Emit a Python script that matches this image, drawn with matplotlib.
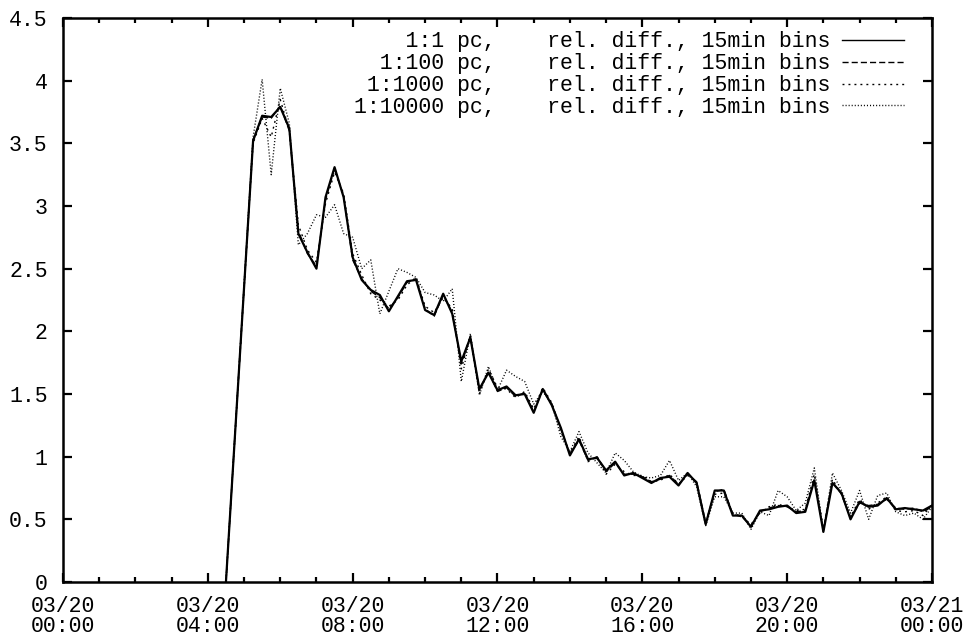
import matplotlib
matplotlib.use("Agg")
import matplotlib.pyplot as plt
from matplotlib.ticker import FixedLocator, MultipleLocator

plt.rcParams['font.family'] = ['Liberation Mono', 'DejaVu Sans Mono']

# 15-minute bins (hours since 03/20 00:00); the bins between 04:30 and 05:15 are empty
bin_hours = [4.5] + [5.25 + 0.25 * i for i in range(76)]

rel_diff_1 = [0.00,
    3.52, 3.72, 3.71,
    3.79, 3.62, 2.78, 2.63,
    2.50, 3.07, 3.31, 3.07,
    2.59, 2.41, 2.33, 2.29,
    2.16, 2.28, 2.40, 2.41,
    2.17, 2.13, 2.30, 2.14,
    1.76, 1.95, 1.54, 1.67,
    1.53, 1.56, 1.49, 1.50,
    1.35, 1.54, 1.41, 1.23,
    1.01, 1.14, 0.98, 0.99,
    0.89, 0.96, 0.85, 0.87,
    0.83, 0.79, 0.83, 0.84,
    0.77, 0.87, 0.79, 0.46,
    0.73, 0.73, 0.53, 0.53,
    0.44, 0.57, 0.58, 0.60,
    0.61, 0.55, 0.56, 0.81,
    0.40, 0.79, 0.71, 0.50,
    0.64, 0.60, 0.61, 0.67,
    0.58, 0.59, 0.58, 0.57,
    0.61]

rel_diff_100 = [0.00,
    3.53, 3.71, 3.70,
    3.80, 3.60, 2.80, 2.62,
    2.52, 3.05, 3.30, 3.08,
    2.57, 2.42, 2.32, 2.27,
    2.18, 2.27, 2.39, 2.42,
    2.18, 2.12, 2.29, 2.15,
    1.74, 1.96, 1.53, 1.68,
    1.52, 1.55, 1.48, 1.51,
    1.36, 1.53, 1.42, 1.22,
    1.02, 1.13, 0.97, 1.00,
    0.88, 0.95, 0.86, 0.86,
    0.84, 0.80, 0.82, 0.85,
    0.78, 0.86, 0.80, 0.47,
    0.72, 0.74, 0.54, 0.52,
    0.45, 0.56, 0.59, 0.61,
    0.60, 0.56, 0.57, 0.82,
    0.41, 0.80, 0.70, 0.51,
    0.63, 0.61, 0.62, 0.66,
    0.59, 0.58, 0.59, 0.56,
    0.60]

rel_diff_1000 = [0.00,
    3.50, 3.70, 3.55,
    3.85, 3.60, 2.85, 2.65,
    2.55, 3.02, 3.27, 3.10,
    2.62, 2.45, 2.30, 2.25,
    2.20, 2.25, 2.37, 2.43,
    2.20, 2.15, 2.27, 2.18,
    1.70, 1.97, 1.50, 1.70,
    1.55, 1.54, 1.47, 1.52,
    1.38, 1.55, 1.43, 1.20,
    1.03, 1.16, 0.96, 1.00,
    0.86, 0.94, 0.88, 0.85,
    0.85, 0.80, 0.81, 0.86,
    0.78, 0.85, 0.80, 0.47,
    0.70, 0.71, 0.55, 0.52,
    0.46, 0.55, 0.60, 0.62,
    0.60, 0.57, 0.58, 0.86,
    0.42, 0.82, 0.70, 0.52,
    0.66, 0.58, 0.63, 0.68,
    0.57, 0.56, 0.57, 0.53,
    0.62]

rel_diff_10000 = [0.00,
    3.55, 4.01, 3.25,
    3.94, 3.66, 2.69, 2.78,
    2.93, 2.91, 3.01, 2.78,
    2.75, 2.50, 2.57, 2.14,
    2.32, 2.50, 2.47, 2.43,
    2.31, 2.29, 2.24, 2.34,
    1.60, 1.98, 1.49, 1.72,
    1.53, 1.69, 1.64, 1.60,
    1.42, 1.52, 1.42, 1.16,
    1.04, 1.20, 1.03, 0.95,
    0.87, 1.03, 0.97, 0.88,
    0.84, 0.83, 0.85, 0.97,
    0.81, 0.87, 0.76, 0.45,
    0.68, 0.68, 0.55, 0.55,
    0.42, 0.56, 0.53, 0.73,
    0.68, 0.57, 0.63, 0.91,
    0.40, 0.87, 0.73, 0.55,
    0.73, 0.50, 0.69, 0.71,
    0.56, 0.53, 0.55, 0.50,
    0.60]

series_labels = ["1:1 pc,", "1:100 pc,", "1:1000 pc,", "1:10000 pc,"]
legend_suffix = "    rel. diff., 15min bins"

x_tick_hours = [0, 4, 8, 12, 16, 20, 24]
x_tick_labels = ["03/20\n00:00", "03/20\n04:00", "03/20\n08:00", "03/20\n12:00",
                 "03/20\n16:00", "03/20\n20:00", "03/21\n00:00"]
y_ticks = [0, 0.5, 1, 1.5, 2, 2.5, 3, 3.5, 4, 4.5]
y_tick_labels = ["0", "0.5", "1", "1.5", "2", "2.5", "3", "3.5", "4", "4.5"]

fig = plt.figure(figsize=(9.69, 6.39), dpi=100)
ax = fig.add_axes([63 / 969, 57 / 639, 869 / 969, 564 / 639])

styles = [
    dict(linestyle='-', linewidth=1.6),
    dict(linestyle=(0, (4.4, 2.2)), linewidth=1.0),
    dict(linestyle=(0, (1.4, 2.9)), linewidth=1.0),
    dict(linestyle=(0, (0.75, 1.45)), linewidth=1.0),
]
all_series = [rel_diff_1, rel_diff_100, rel_diff_1000, rel_diff_10000]
width = max(len(s) for s in series_labels)
for name, values, st in zip(series_labels, all_series, styles):
    ax.plot(bin_hours, values, color='black',
            label=f"{name:>{width}}{legend_suffix}", **st)

ax.set_xlim(0, 24)
ax.set_ylim(0, 4.5)
ax.xaxis.set_major_locator(FixedLocator(x_tick_hours))
ax.set_xticklabels(x_tick_labels)
ax.xaxis.set_minor_locator(MultipleLocator(1))
ax.set_yticks(y_ticks)
ax.set_yticklabels(y_tick_labels)

for sp in ax.spines.values():
    sp.set_linewidth(1.8)
ax.tick_params(which='both', direction='in', top=True, right=True, width=1.6,
               labelsize=15.5, colors='black')
ax.tick_params(which='major', length=6.5)
ax.tick_params(which='minor', length=3.8)
ax.tick_params(axis='y', pad=11)
ax.tick_params(axis='x', pad=10)
for lab in ax.get_xticklabels():
    lab.set_linespacing(0.95)

leg = ax.legend(loc='upper right', bbox_to_anchor=(1 - 19 / 869, 1 - 4.5 / 564),
                borderaxespad=0, frameon=False, markerfirst=False,
                handlelength=2.9, handletextpad=0.55, labelspacing=0.045,
                prop={'family': 'Liberation Mono', 'size': 15.5})
leg.get_lines()[0].set_linewidth(1.0)

fig.savefig("out.png", dpi=100)
